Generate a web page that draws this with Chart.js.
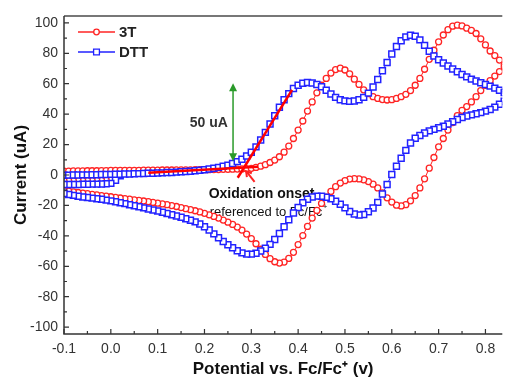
<!DOCTYPE html>
<html lang="en">
<head>
  <meta charset="UTF-8">
  <title>Cyclic voltammetry: 3T vs DTT</title>
  <script src="https://cdn.jsdelivr.net/npm/chart.js"></script>
  <style>
    body { margin: 0; background: #fff; }
    .wrap { width: 508px; height: 380px; }
  </style>
</head>
<body>
  <div class="wrap"><canvas id="cv" width="508" height="380"></canvas></div>

  <script>
    // ---- data (potential in V vs Fc/Fc+, current in uA) ----
    // initial short sweep from 0.02 V down to -0.10 V
    const potentialStart = [0.02, 0.01, 0.00, -0.01, -0.02, -0.03, -0.04, -0.05, -0.06, -0.07, -0.08, -0.09, -0.10];
    // forward sweep grid; the reverse sweep runs the same grid backwards
    const potentialFwd = [
      -0.10, -0.09, -0.08, -0.07, -0.06, -0.05, -0.04, -0.03, -0.02, -0.01,
      0.00, 0.01, 0.02, 0.03, 0.04, 0.05, 0.06, 0.07, 0.08, 0.09,
      0.10, 0.11, 0.12, 0.13, 0.14, 0.15, 0.16, 0.17, 0.18, 0.19,
      0.20, 0.21, 0.22, 0.23, 0.24, 0.25, 0.26, 0.27, 0.28, 0.29,
      0.30, 0.31, 0.32, 0.33, 0.34, 0.35, 0.36, 0.37, 0.38, 0.39,
      0.40, 0.41, 0.42, 0.43, 0.44, 0.45, 0.46, 0.47, 0.48, 0.49,
      0.50, 0.51, 0.52, 0.53, 0.54, 0.55, 0.56, 0.57, 0.58, 0.59,
      0.60, 0.61, 0.62, 0.63, 0.64, 0.65, 0.66, 0.67, 0.68, 0.69,
      0.70, 0.71, 0.72, 0.73, 0.74, 0.75, 0.76, 0.77, 0.78, 0.79,
      0.80, 0.81, 0.82, 0.83, 0.84
    ];
    const potentialRev = potentialFwd.slice().reverse();

    // 3T (red circles)
    const t3Start = [0.5, -2.5, -3.3, -3.4, -3.5, -3.5, -3.6, -3.6, -3.7, -3.7, -3.8, -3.8, -3.9];
    const t3Fwd = [
      2.6, 2.6, 2.7, 2.7, 2.7, 2.8, 2.8, 2.8, 2.9, 2.9,
      3.0, 3.0, 3.0, 3.1, 3.1, 3.1, 3.1, 3.2, 3.2, 3.2,
      3.2, 3.3, 3.3, 3.3, 3.4, 3.4, 3.4, 3.4, 3.5, 3.5,
      3.5, 3.5, 3.6, 3.6, 3.7, 3.7, 3.8, 3.9, 4.0, 4.1,
      4.4, 5.0, 5.8, 6.8, 8.2, 9.8, 12.0, 15.0, 19.0, 24.0,
      29.5, 35.5, 42.0, 48.0, 54.0, 59.0, 63.5, 67.0, 69.3, 70.2,
      69.0, 66.5, 63.0, 59.5, 56.0, 53.5, 51.5, 50.3, 49.6, 49.3,
      49.5, 50.3, 51.5, 53.0, 55.5, 59.0, 63.5, 69.5, 76.0, 82.0,
      87.5, 92.0, 95.5, 97.8, 98.5, 98.0, 96.5, 95.0, 93.0, 89.5,
      85.5, 81.5, 78.5, 75.5, 72.5
    ];
    const t3Rev = [
      71.0, 68.0, 65.0, 62.0, 59.0, 55.5, 51.5, 48.0, 45.0, 42.5,
      39.0, 34.5, 29.5, 24.0, 18.5, 11.5, 4.5, -2.5, -8.5, -13.5,
      -17.0, -19.5, -20.3, -19.8, -17.8, -15.0, -11.8, -8.5, -6.0, -4.3,
      -3.2, -2.6, -2.4, -2.7, -3.7, -5.3, -7.7, -10.8, -14.5, -18.7,
      -23.3, -28.3, -33.8, -39.8, -45.7, -50.8, -54.8, -57.2, -57.9, -57.0,
      -55.0, -52.2, -48.8, -45.2, -41.8, -38.8, -36.2, -34.2, -32.5, -31.0,
      -29.6, -28.3, -27.2, -26.2, -25.2, -24.3, -23.5, -22.8, -22.1, -21.4,
      -20.7, -20.1, -19.5, -19.0, -18.5, -18.0, -17.5, -17.1, -16.7, -16.3,
      -15.9, -15.5, -15.1, -14.7, -14.3, -13.9, -13.5, -13.1, -12.7, -12.3,
      -11.9, -11.5, -11.1, -10.6, -10.2
    ];

    // DTT (blue squares)
    const dttStart = [-0.5, -3.5, -5.5, -5.8, -5.9, -6.0, -6.0, -6.1, -6.1, -6.2, -6.2, -6.3, -6.3];
    const dttFwd = [
      -0.2, -0.1, 0.0, 0.0, 0.1, 0.1, 0.2, 0.2, 0.3, 0.3,
      0.4, 0.5, 0.5, 0.6, 0.7, 0.8, 0.9, 1.0, 1.1, 1.2,
      1.3, 1.4, 1.6, 1.7, 1.9, 2.1, 2.3, 2.5, 2.8, 3.1,
      3.5, 3.9, 4.4, 5.0, 5.7, 6.5, 7.5, 8.8, 10.4, 12.5,
      15.0, 18.5, 23.0, 28.0, 33.5, 39.0, 44.5, 49.5, 53.5, 56.8,
      59.0, 60.3, 60.8, 60.5, 59.5, 58.0, 55.7, 53.2, 51.0, 49.5,
      48.7, 48.4, 48.6, 49.5, 51.0, 53.8, 57.8, 62.8, 68.5, 74.0,
      79.5, 84.5, 88.2, 90.8, 91.8, 91.2, 88.8, 85.2, 81.3, 78.2,
      75.7, 73.6, 71.6, 69.7, 67.8, 66.1, 64.5, 63.0, 61.8, 60.6,
      59.5, 58.4, 57.1, 55.7, 54.2
    ];
    const dttRev = [
      48.5, 46.5, 44.6, 43.1, 42.0, 41.0, 40.2, 39.5, 38.8, 37.8,
      36.5, 35.0, 33.5, 32.1, 31.0, 30.0, 29.0, 27.6, 26.0, 24.2,
      21.0, 16.2, 11.0, 5.8, 0.3, -6.2, -12.5, -18.0, -21.7, -24.2,
      -25.9, -26.3, -25.6, -24.0, -21.6, -19.2, -17.2, -15.6, -14.6, -14.0,
      -13.9, -14.5, -15.9, -18.3, -21.4, -25.0, -29.4, -34.0, -38.5, -42.4,
      -45.6, -48.1, -50.0, -51.4, -52.0, -52.0, -51.2, -49.8, -47.8, -45.8,
      -43.7, -41.3, -38.7, -36.2, -34.0, -32.2, -30.8, -29.7, -28.7, -27.8,
      -26.9, -26.1, -25.3, -24.5, -23.7, -23.0, -22.3, -21.6, -20.9, -20.2,
      -19.5, -18.8, -18.2, -17.6, -17.0, -16.5, -16.0, -15.6, -15.2, -14.8,
      -14.4, -14.0, -13.4, -12.8, -12.2
    ];

    // onset tangents (baseline and rising edge of DTT)
    const baselineX = [0.08, 0.315];
    const baselineY = [1.5, 5.5];
    const risingX = [0.271, 0.387];
    const risingY = [-1.8, 56];

    // axis ticks
    const xTickValues = [-0.1, 0.0, 0.1, 0.2, 0.3, 0.4, 0.5, 0.6, 0.7, 0.8];
    const xMinorTicks = [-0.05, 0.05, 0.15, 0.25, 0.35, 0.45, 0.55, 0.65, 0.75];
    const yTickValues = [-100, -80, -60, -40, -20, 0, 20, 40, 60, 80, 100];
    const yMinorTicks = [-90, -70, -50, -30, -10, 10, 30, 50, 70, 90];

    const RED = '#ff2424';
    const BLUE = '#2222ff';
    const GREEN = '#2a9a2a';
    const FONT = "'Liberation Sans', Arial, sans-serif";

    function buildSeries(start, fwd, rev) {
      const pts = [];
      potentialStart.forEach((x, i) => pts.push({ x: x, y: start[i] }));
      potentialFwd.forEach((x, i) => pts.push({ x: x, y: fwd[i] }));
      potentialRev.forEach((x, i) => pts.push({ x: x, y: rev[i] }));
      return pts;
    }
    function pairs(xs, ys) {
      return xs.map((x, i) => ({ x: x, y: ys[i] }));
    }

    function arrowHead(ctx, x, y, angle, len, half) {
      ctx.save();
      ctx.translate(x, y);
      ctx.rotate(angle);
      ctx.beginPath();
      ctx.moveTo(0, 0);
      ctx.lineTo(-len, -half);
      ctx.lineTo(-len, half);
      ctx.closePath();
      ctx.fill();
      ctx.restore();
    }

    // labels that sit under the curves
    const notes = {
      id: 'notes',
      beforeDatasetsDraw(chart) {
        const ctx = chart.ctx, sx = chart.scales.x, sy = chart.scales.y;
        ctx.save();
        ctx.textBaseline = 'middle';
        ctx.fillStyle = '#333';
        ctx.font = 'bold 14px ' + FONT;
        ctx.textAlign = 'right';
        ctx.fillText('50 uA', sx.getPixelForValue(0.25), sy.getPixelForValue(34));
        ctx.textAlign = 'left';
        ctx.fillStyle = '#111';
        ctx.fillText('Oxidation onset', sx.getPixelForValue(0.209), sy.getPixelForValue(-12.5));
        ctx.font = '13px ' + FONT;
        const rx = sx.getPixelForValue(0.211), ry = sy.getPixelForValue(-24.3);
        const txt = 'referenced to Fc/Fc';
        ctx.fillText(txt, rx, ry);
        const w = ctx.measureText(txt).width;
        ctx.font = '8px ' + FONT;
        ctx.fillText('+', rx + w + 0.5, ry - 5);
        ctx.restore();
      },
      afterDatasetsDraw(chart) {
        const ctx = chart.ctx, sx = chart.scales.x, sy = chart.scales.y;
        ctx.save();
        // green 50 uA double arrow
        const gx = sx.getPixelForValue(0.261);
        const gTop = sy.getPixelForValue(60.3), gBot = sy.getPixelForValue(9);
        ctx.strokeStyle = GREEN;
        ctx.fillStyle = GREEN;
        ctx.lineWidth = 1.5;
        ctx.beginPath();
        ctx.moveTo(gx, gTop + 6);
        ctx.lineTo(gx, gBot - 6);
        ctx.stroke();
        arrowHead(ctx, gx, gTop, -Math.PI / 2, 8, 4);
        arrowHead(ctx, gx, gBot, Math.PI / 2, 8, 4);
        // red arrow to the onset point
        const hx = sx.getPixelForValue(0.289), hy = sy.getPixelForValue(2.5);
        const tx = sx.getPixelForValue(0.307), ty = sy.getPixelForValue(-4.5);
        const ang = Math.atan2(hy - ty, hx - tx);
        ctx.strokeStyle = RED;
        ctx.lineWidth = 2;
        ctx.beginPath();
        ctx.moveTo(tx, ty);
        ctx.lineTo(hx, hy);
        ctx.stroke();
        ctx.beginPath();
        ctx.moveTo(hx - 6 * Math.cos(ang - 0.55), hy - 6 * Math.sin(ang - 0.55));
        ctx.lineTo(hx, hy);
        ctx.lineTo(hx - 6 * Math.cos(ang + 0.55), hy - 6 * Math.sin(ang + 0.55));
        ctx.stroke();
        ctx.restore();
      }
    };

    // axis frame with inward ticks, plus the line+symbol legend
    const frame = {
      id: 'frame',
      afterDraw(chart) {
        const ctx = chart.ctx, a = chart.chartArea;
        const sx = chart.scales.x, sy = chart.scales.y;
        ctx.save();
        ctx.strokeStyle = '#777';
        ctx.lineWidth = 2;
        ctx.beginPath();
        ctx.moveTo(a.left, a.top);
        ctx.lineTo(a.right, a.top);
        ctx.stroke();
        ctx.strokeStyle = '#333';
        ctx.lineWidth = 1.5;
        ctx.beginPath();
        ctx.moveTo(a.left, a.top);
        ctx.lineTo(a.left, a.bottom);
        ctx.lineTo(a.right, a.bottom);
        ctx.stroke();
        ctx.lineWidth = 1.2;
        ctx.beginPath();
        yTickValues.forEach(v => { const y = sy.getPixelForValue(v); ctx.moveTo(a.left, y); ctx.lineTo(a.left + 5, y); });
        yMinorTicks.forEach(v => { const y = sy.getPixelForValue(v); ctx.moveTo(a.left, y); ctx.lineTo(a.left + 3, y); });
        xTickValues.forEach(v => { const x = sx.getPixelForValue(v); ctx.moveTo(x, a.bottom); ctx.lineTo(x, a.bottom - 5); });
        xMinorTicks.forEach(v => { const x = sx.getPixelForValue(v); ctx.moveTo(x, a.bottom); ctx.lineTo(x, a.bottom - 3); });
        ctx.stroke();

        // legend
        const items = [
          { label: '3T', color: RED, shape: 'circle' },
          { label: 'DTT', color: BLUE, shape: 'rect' }
        ];
        items.forEach((it, i) => {
          const y = a.top + 16 + i * 20;
          const x0 = a.left + 14, x1 = a.left + 51, xm = (x0 + x1) / 2;
          ctx.strokeStyle = it.color;
          ctx.lineWidth = 1.3;
          ctx.beginPath();
          ctx.moveTo(x0, y);
          ctx.lineTo(x1, y);
          ctx.stroke();
          ctx.fillStyle = '#fff';
          ctx.beginPath();
          if (it.shape === 'circle') ctx.arc(xm, y, 2.8, 0, Math.PI * 2);
          else ctx.rect(xm - 2.9, y - 2.9, 5.8, 5.8);
          ctx.fill();
          ctx.stroke();
          ctx.fillStyle = '#222';
          ctx.font = 'bold 15px ' + FONT;
          ctx.textAlign = 'left';
          ctx.textBaseline = 'middle';
          ctx.fillText(it.label, x1 + 4, y + 1);
        });
        ctx.restore();
      }
    };

    const tickFont = { family: FONT, size: 14 };

    new Chart(document.getElementById('cv').getContext('2d'), {
      type: 'scatter',
      data: {
        datasets: [
          {
            label: 'onset baseline', data: pairs(baselineX, baselineY), showLine: true,
            borderColor: '#ff0000', borderWidth: 2.5, pointRadius: 0, order: 0
          },
          {
            label: 'onset rise', data: pairs(risingX, risingY), showLine: true,
            borderColor: '#ff0000', borderWidth: 2.5, pointRadius: 0, order: 0
          },
          {
            label: 'DTT', data: buildSeries(dttStart, dttFwd, dttRev), showLine: true,
            borderColor: BLUE, borderWidth: 1, pointStyle: 'rect', pointRadius: 4.2,
            pointBorderWidth: 1.5, pointBorderColor: BLUE, pointBackgroundColor: '#fff', order: 1
          },
          {
            label: '3T', data: buildSeries(t3Start, t3Fwd, t3Rev), showLine: true,
            borderColor: RED, borderWidth: 1, pointStyle: 'circle', pointRadius: 3.0,
            pointBorderWidth: 1.3, pointBorderColor: RED, pointBackgroundColor: '#fff', order: 2
          }
        ]
      },
      options: {
        responsive: false,
        animation: false,
        events: [],
        layout: { padding: { top: 16, right: 0, left: 0, bottom: 0 } },
        plugins: { legend: { display: false }, tooltip: { enabled: false } },
        scales: {
          x: {
            type: 'linear', min: -0.1, max: 0.836,
            afterFit(s) { s.height = 46; },
            afterBuildTicks(s) { s.ticks = xTickValues.map(v => ({ value: v })); },
            grid: { display: false, drawTicks: false },
            border: { display: false },
            ticks: { font: tickFont, color: '#333', padding: 7, maxRotation: 0, autoSkip: false,
                     callback: v => v.toFixed(1) },
            title: { display: true, text: 'Potential vs. Fc/Fc\u207A (v)', color: '#111',
                     font: { family: FONT, size: 17, weight: 'bold' }, padding: { top: 0, bottom: 0 } }
          },
          y: {
            type: 'linear', min: -104.5, max: 104.5,
            afterFit(s) { s.width = 64; },
            afterBuildTicks(s) { s.ticks = yTickValues.map(v => ({ value: v })); },
            grid: { display: false, drawTicks: false },
            border: { display: false },
            ticks: { font: tickFont, color: '#333', padding: 6, autoSkip: false },
            title: { display: true, text: 'Current (uA)', color: '#111',
                     font: { family: FONT, size: 17, weight: 'bold' }, padding: { top: 11, bottom: 0 } }
          }
        }
      },
      plugins: [notes, frame]
    });
  </script>
</body>
</html>
